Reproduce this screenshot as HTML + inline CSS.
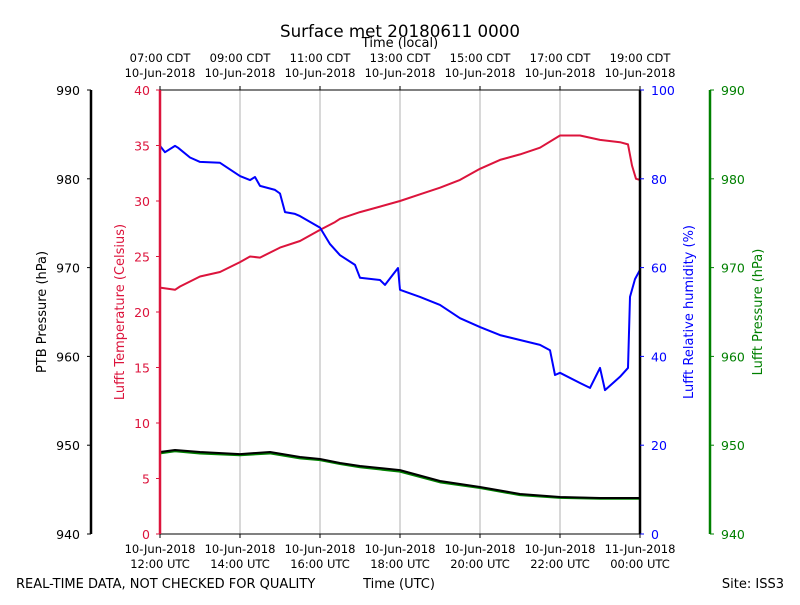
<!DOCTYPE html>
<html><head><meta charset="utf-8"><style>
body{margin:0;background:#fff;}
svg text{font-family:"DejaVu Sans","Liberation Sans",sans-serif;}
</style></head><body>
<svg id="c" width="800" height="600" xmlns="http://www.w3.org/2000/svg"></svg>
<script>
const timeTicks = [0,2,4,6,8,10,12];
const utcLabels = [["10-Jun-2018","12:00 UTC"],["10-Jun-2018","14:00 UTC"],["10-Jun-2018","16:00 UTC"],["10-Jun-2018","18:00 UTC"],["10-Jun-2018","20:00 UTC"],["10-Jun-2018","22:00 UTC"],["11-Jun-2018","00:00 UTC"]];
const localLabels = [["07:00 CDT","10-Jun-2018"],["09:00 CDT","10-Jun-2018"],["11:00 CDT","10-Jun-2018"],["13:00 CDT","10-Jun-2018"],["15:00 CDT","10-Jun-2018"],["17:00 CDT","10-Jun-2018"],["19:00 CDT","10-Jun-2018"]];
const pTicks = [940,950,960,970,980,990];
const tTicks = [0,5,10,15,20,25,30,35,40];
const rhTicks = [0,20,40,60,80,100];
const tempHours = [0,0.375,0.5,1,1.5,2,2.25,2.5,3,3.5,4,4.375,4.5,5,5.5,6,6.5,7,7.5,8,8.5,9,9.5,10,10.5,11,11.5,11.7,11.8,11.9,12];
const tempVals = [22.2,22.0,22.3,23.2,23.6,24.5,25.0,24.9,25.8,26.4,27.4,28.1,28.4,29.0,29.5,30.0,30.6,31.2,31.9,32.9,33.7,34.2,34.8,35.9,35.9,35.5,35.3,35.1,33.2,32.0,31.9];
const rhHours = [0,0.125,0.375,0.45,0.75,1,1.5,2,2.25,2.375,2.5,2.875,3,3.125,3.375,3.5,4,4.25,4.5,4.875,5,5.5,5.625,5.95,6,6.5,7,7.5,8,8.5,9,9.5,9.75,9.875,10,10.5,10.75,11,11.125,11.5,11.7,11.75,11.875,12];
const rhVals = [87.4,86,87.4,87,84.8,83.8,83.6,80.6,79.7,80.4,78.4,77.5,76.7,72.5,72.1,71.6,69,65.3,62.8,60.6,57.7,57.2,56.1,59.9,55,53.4,51.6,48.6,46.6,44.8,43.7,42.6,41.4,35.8,36.3,34,32.9,37.4,32.4,35.4,37.4,53.4,57.4,59.5];
const pHours = [0,0.375,1,2,2.75,3.5,4,4.5,5,6,7,8,9,10,11,12];
const ptbVals = [949.23,949.46,949.23,949.0,949.23,948.67,948.45,948.0,947.66,947.2,945.97,945.29,944.5,944.17,944.05,944.05];
const lufftPVals = [949.1,949.35,949.1,948.9,949.1,948.55,948.35,947.9,947.55,947.05,945.85,945.2,944.4,944.1,944.0,944.0];

const X0=160,X1=640,Y0=534,Y1=90;
const xs=h=>X0+(X1-X0)*h/12;
const yP=v=>Y0-(Y0-Y1)*(v-940)/50;
const yT=v=>Y0-(Y0-Y1)*v/40;
const yR=v=>Y0-(Y0-Y1)*v/100;
const svg=document.getElementById('c');
const NS='http://www.w3.org/2000/svg';
function mk(tag,attrs,txt){const e=document.createElementNS(NS,tag);for(const k in attrs)e.setAttribute(k,attrs[k]);if(txt!==undefined)e.textContent=txt;svg.appendChild(e);return e;}
timeTicks.forEach(h=>{const l=mk('line',{x1:xs(h),x2:xs(h),y1:Y1,y2:Y0,stroke:'#b0b0b0','stroke-width':1});

});
function path(hs,vs,yf,color,w,name){let d='';hs.forEach((h,i)=>{d+=(i?'L':'M')+xs(h).toFixed(1)+','+yf(vs[i]).toFixed(1);});const p=mk('path',{d:d,fill:'none',stroke:color,'stroke-width':w,'stroke-linejoin':'round'});

}
path(tempHours,tempVals,yT,'#dc143c',2,'lufft-temperature-line');
path(rhHours,rhVals,yR,'#0000ff',2,'lufft-rh-line');
path(pHours,lufftPVals,yP,'#008000',2.5,'lufft-pressure-line');
path(pHours,ptbVals,yP,'#000000',2,'ptb-pressure-line');
mk('line',{x1:X0,x2:X1,y1:Y1,y2:Y1,stroke:'#000','stroke-width':1});
mk('line',{x1:X0,x2:X1,y1:Y0,y2:Y0,stroke:'#000','stroke-width':1});
mk('line',{x1:X0,x2:X0,y1:Y1,y2:Y0,stroke:'#dc143c','stroke-width':2.5});
mk('line',{x1:X1,x2:X1,y1:Y1,y2:Y0,stroke:'#000','stroke-width':2.5});
mk('line',{x1:91,x2:91,y1:Y1,y2:Y0,stroke:'#000','stroke-width':2.5});
mk('line',{x1:710,x2:710,y1:Y1,y2:Y0,stroke:'#008000','stroke-width':2.5});
function txt(x,y,s,fill,anchor,size,name,rot){const a={x:x,y:y,fill:fill,'text-anchor':anchor,'font-size':size};if(rot)a.transform='rotate(-90 '+x+' '+y+')';const t=mk('text',a,s);

return t;}
pTicks.forEach(v=>{const y=yP(v);mk('line',{x1:87,x2:91,y1:y,y2:y,stroke:'#000'});txt(80,y+5,v,'#000','end',12.5,'ptb-tick-label');
mk('line',{x1:710,x2:714,y1:y,y2:y,stroke:'#008000'});txt(721,y+5,v,'#008000','start',12.5,'lufft-pressure-tick-label');});
tTicks.forEach(v=>{const y=yT(v);mk('line',{x1:156,x2:160,y1:y,y2:y,stroke:'#dc143c'});txt(150,y+5,v,'#dc143c','end',12.5,'temperature-tick-label');});
rhTicks.forEach(v=>{const y=yR(v);mk('line',{x1:640,x2:644,y1:y,y2:y,stroke:'#0000ff'});txt(651,y+5,v,'#0000ff','start',12.5,'rh-tick-label');});
timeTicks.forEach((h,i)=>{const x=xs(h);mk('line',{x1:x,x2:x,y1:Y0,y2:Y0+4,stroke:'#000'});mk('line',{x1:x,x2:x,y1:Y1-4,y2:Y1,stroke:'#000'});
txt(x,553,utcLabels[i][0],'#000','middle',11.5,'utc-tick-label');txt(x,568,utcLabels[i][1],'#000','middle',11.5,'utc-tick-label');
txt(x,62,localLabels[i][0],'#000','middle',11.5,'local-tick-label');txt(x,77,localLabels[i][1],'#000','middle',11.5,'local-tick-label');});
txt(400,37,'Surface met 20180611 0000','#000','middle',16.7,'chart-title');
txt(400,47,'Time (local)','#000','middle',13,'top-axis-title');
txt(399,588,'Time (UTC)','#000','middle',13,'bottom-axis-title');
txt(16,588,'REAL-TIME DATA, NOT CHECKED FOR QUALITY','#000','start',13,'quality-note');
txt(784,588,'Site: ISS3','#000','end',13,'site-label');
txt(46,312,'PTB Pressure (hPa)','#000','middle',13,'ptb-axis-title',true);
txt(124,312,'Lufft Temperature (Celsius)','#dc143c','middle',13,'temperature-axis-title',true);
txt(693,312,'Lufft Relative humidity (%)','#0000ff','middle',13,'rh-axis-title',true);
txt(762,312,'Lufft Pressure (hPa)','#008000','middle',13,'lufft-pressure-axis-title',true);
</script>
</body></html>
